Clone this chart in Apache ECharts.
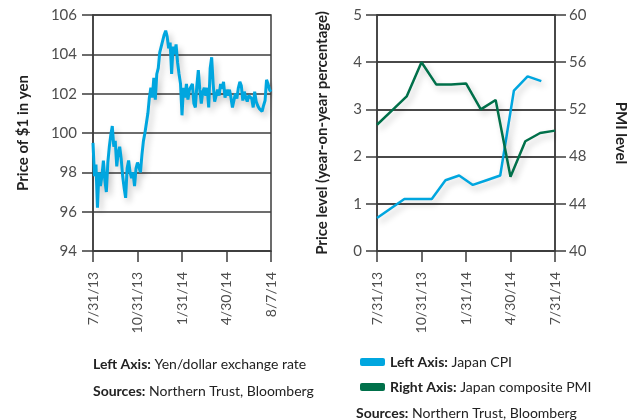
<!DOCTYPE html>
<html>
<head>
<meta charset="utf-8">
<script src="https://cdn.jsdelivr.net/npm/echarts@6/dist/echarts.min.js"></script>
<style>
  html, body { margin: 0; padding: 0; background: #ffffff; }
  #chart { width: 640px; height: 420px; }
</style>
</head>
<body>
<div id="chart"></div>
<script>
// Yen per US dollar, daily closes 7/31/13 - 8/7/14 (sampled)
const fxRate = [
  99.5, 97.8, 98.4, 96.2, 98.0, 97.3, 97.8, 98.6, 97.6, 97.0,
  98.5, 99.3, 99.9, 100.35, 99.3, 99.6, 98.3, 99.0, 99.3, 98.7,
  97.8, 97.2, 96.7, 98.2, 98.6, 98.0, 97.7, 98.0, 97.3, 98.2,
  98.5, 98.6, 98.0, 98.9, 99.6, 100.0, 100.1, 101.0, 101.8, 102.3,
  101.8, 102.8, 101.7, 103.0, 103.3, 104.1, 104.1, 104.7, 105.0, 105.2,
  104.9, 104.3, 104.6, 103.0, 104.4, 104.0, 104.5, 103.6, 103.0, 102.5,
  100.9, 102.3, 101.8, 102.5, 101.7, 102.2, 102.1, 102.5, 101.5, 101.3,
  102.4, 103.2, 102.2, 101.5, 102.1, 102.3, 101.9, 102.3, 101.3, 103.3,
  103.85, 102.5, 101.6, 101.5, 102.2, 101.9, 102.5, 102.25, 102.6, 101.8,
  102.2, 101.9, 102.2, 101.8, 101.3, 101.65, 102.0, 101.75, 102.3, 102.6,
  102.4, 101.65, 102.1, 101.8, 101.6, 101.9, 101.8, 101.75, 101.3, 102.1,
  101.6, 101.4, 101.25, 101.15, 101.1, 101.4, 101.65, 102.7, 102.5, 102.2,
  102.1
];
const fxTickLabels = ['7/31/13', '10/31/13', '1/31/14', '4/30/14', '8/7/14'];
const fxTickEvery = 30;

// Japan CPI, year-on-year %, monthly
const cpiMonths = ['7/31/13', '8/31/13', '9/30/13', '10/31/13', '11/30/13', '12/31/13',
  '1/31/14', '2/28/14', '3/31/14', '4/30/14', '5/31/14', '6/30/14', '7/31/14', '8/31/14'];
const cpiValues = [0.7, 0.9, 1.1, 1.1, 1.1, 1.5, 1.6, 1.4, 1.5, 1.6, 3.4, 3.7, 3.6];

// Japan composite PMI, monthly
const pmiMonths = ['7/31/13', '8/31/13', '9/30/13', '10/31/13', '11/30/13', '12/31/13',
  '1/31/14', '2/28/14', '3/31/14', '4/30/14', '5/31/14', '6/30/14', '7/31/14'];
const pmiValues = [50.7, 51.9, 53.1, 56.0, 54.1, 54.1, 54.2, 52.0, 52.8, 46.3, 49.3, 50.0, 50.2];

const FONT = 'Lato';
const AXIS = '#3d3d3d';
const LABEL = '#4d4d4d';
const BLUE = '#00a6df';
const GREEN = '#00704a';
const NOTE_SIZE = 14;

const lineShadow = {
  shadowColor: 'rgba(0,0,0,0.22)',
  shadowBlur: 6,
  shadowOffsetX: 3,
  shadowOffsetY: 4
};

function yAxisBase(extra) {
  return Object.assign({
    type: 'value',
    nameLocation: 'middle',
    nameTextStyle: { fontFamily: FONT, fontWeight: 'bold', fontSize: 15, color: '#222' },
    axisLine: { show: true, lineStyle: { color: AXIS, width: 1.5 } },
    axisTick: { show: true, inside: false, length: 11, lineStyle: { color: AXIS, width: 1.5 } },
    axisLabel: { fontFamily: FONT, fontSize: 15, color: LABEL, margin: 16 },
    splitLine: { show: true, lineStyle: { color: AXIS, width: 1.5 } }
  }, extra);
}

function xLabelStyle() {
  return { fontFamily: FONT, fontSize: 14, color: LABEL, rotate: 90, margin: 21 };
}

const noteRich = { b: { fontWeight: 'bold', fontFamily: FONT, fontSize: NOTE_SIZE, fill: '#222' } };

const chart = echarts.init(document.getElementById('chart'), null, { renderer: 'canvas' });

chart.setOption({
  animation: false,
  backgroundColor: '#ffffff',
  grid: [
    { left: 93, top: 15, width: 178, height: 236, show: true, borderColor: AXIS, borderWidth: 1.5 },
    { left: 377, top: 15, width: 178, height: 236, show: true, borderColor: AXIS, borderWidth: 1.5 }
  ],
  xAxis: [
    {
      gridIndex: 0,
      type: 'category',
      boundaryGap: false,
      data: fxRate.map((_, i) => (i % fxTickEvery === 0 ? fxTickLabels[i / fxTickEvery] : '')),
      axisLine: { show: true, lineStyle: { color: AXIS, width: 1.5 } },
      axisTick: { show: true, interval: fxTickEvery - 1, length: 11, lineStyle: { color: AXIS, width: 1.5 } },
      axisLabel: Object.assign(xLabelStyle(), { interval: fxTickEvery - 1 }),
      splitLine: { show: false }
    },
    {
      gridIndex: 1,
      type: 'category',
      boundaryGap: false,
      data: pmiMonths,
      axisLine: { show: true, lineStyle: { color: AXIS, width: 1.5 } },
      axisTick: { show: true, interval: 2, length: 11, lineStyle: { color: AXIS, width: 1.5 } },
      axisLabel: Object.assign(xLabelStyle(), { interval: 2 }),
      splitLine: { show: false }
    },
    {
      gridIndex: 1,
      type: 'category',
      boundaryGap: false,
      data: cpiMonths,
      show: false
    }
  ],
  yAxis: [
    yAxisBase({
      gridIndex: 0, min: 94, max: 106, interval: 2,
      name: 'Price of $1 in yen', nameGap: 62
    }),
    yAxisBase({
      gridIndex: 1, min: 0, max: 5, interval: 1, position: 'left',
      name: 'Price level (year-on-year percentage)', nameGap: 47,
      axisLabel: { fontFamily: FONT, fontSize: 15, color: LABEL, margin: 15 }
    }),
    yAxisBase({
      gridIndex: 1, min: 40, max: 60, interval: 4, position: 'right',
      name: 'PMI level', nameGap: 58, nameRotate: -90,
      axisLabel: { fontFamily: FONT, fontSize: 15, color: LABEL, margin: 14 }
    })
  ],
  legend: {
    orient: 'vertical',
    left: 355,
    top: 350,
    itemWidth: 25,
    itemHeight: 8,
    itemGap: 11,
    icon: 'roundRect',
    data: ['Japan CPI', 'Japan composite PMI'],
    formatter: function (name) {
      return name === 'Japan CPI'
        ? '{b|Left Axis:} Japan CPI'
        : '{b|Right Axis:} Japan composite PMI';
    },
    textStyle: {
      fontFamily: FONT, fontSize: NOTE_SIZE, color: '#222',
      rich: { b: { fontFamily: FONT, fontSize: NOTE_SIZE, fontWeight: 'bold', color: '#222' } }
    }
  },
  series: [
    {
      name: 'Yen/dollar exchange rate',
      type: 'line',
      xAxisIndex: 0, yAxisIndex: 0,
      data: fxRate,
      showSymbol: false,
      lineStyle: Object.assign({ color: BLUE, width: 3 }, lineShadow),
      itemStyle: { color: BLUE }
    },
    {
      name: 'Japan CPI',
      type: 'line',
      xAxisIndex: 2, yAxisIndex: 1,
      data: cpiValues,
      showSymbol: false,
      lineStyle: Object.assign({ color: BLUE, width: 2.5 }, lineShadow),
      itemStyle: { color: BLUE }
    },
    {
      name: 'Japan composite PMI',
      type: 'line',
      xAxisIndex: 1, yAxisIndex: 2,
      data: pmiValues,
      showSymbol: false,
      lineStyle: Object.assign({ color: GREEN, width: 2.5 }, lineShadow),
      itemStyle: { color: GREEN }
    }
  ],
  graphic: [
    {
      type: 'text', left: 93, top: 357,
      style: {
        text: '{b|Left Axis:} Yen/dollar exchange rate',
        font: NOTE_SIZE + 'px ' + FONT, fill: '#222', rich: noteRich
      }
    },
    {
      type: 'text', left: 93, top: 384,
      style: {
        text: '{b|Sources:} Northern Trust, Bloomberg',
        font: NOTE_SIZE + 'px ' + FONT, fill: '#222', rich: noteRich
      }
    },
    {
      type: 'text', left: 356, top: 406,
      style: {
        text: '{b|Sources:} Northern Trust, Bloomberg',
        font: NOTE_SIZE + 'px ' + FONT, fill: '#222', rich: noteRich
      }
    }
  ]
});
</script>
</body>
</html>
